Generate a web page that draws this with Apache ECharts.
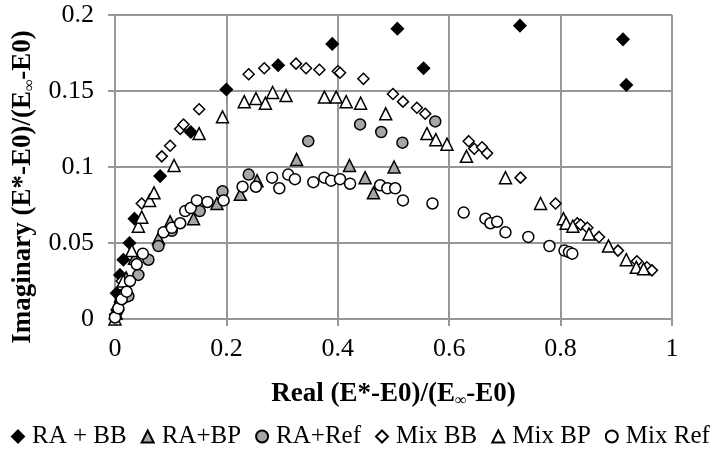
<!DOCTYPE html>
<html>
<head>
<meta charset="utf-8">
<script src="https://cdn.jsdelivr.net/npm/echarts@6/dist/echarts.min.js"></script>
<style>
  html, body { margin: 0; padding: 0; background: #fff; }
  #chart { width: 714px; height: 453px; }
</style>
</head>
<body>
<div id="chart"></div>
<script>
// Cole-Cole style plot
const seriesNames = ['RA + BB', 'RA+BP', 'RA+Ref', 'Mix BB', 'Mix BP', 'Mix Ref'];

const raBB = [[0.001, 0.003], [0.003, 0.017], [0.009, 0.029], [0.015, 0.039], [0.026, 0.050],
  [0.035, 0.066], [0.081, 0.094], [0.136, 0.123], [0.200, 0.151], [0.293, 0.167],
  [0.390, 0.181], [0.507, 0.191], [0.554, 0.165], [0.727, 0.193], [0.912, 0.184], [0.918, 0.154]];

const raBP = [[0.002, 0.004], [0.010, 0.015], [0.020, 0.027], [0.035, 0.040], [0.078, 0.053],
  [0.099, 0.064], [0.141, 0.066], [0.183, 0.076], [0.225, 0.082], [0.255, 0.091],
  [0.326, 0.105], [0.421, 0.101], [0.449, 0.093], [0.464, 0.083], [0.501, 0.100]];

const raRef = [[0.005, 0.006], [0.024, 0.015], [0.042, 0.029], [0.060, 0.039], [0.078, 0.048],
  [0.102, 0.058], [0.152, 0.071], [0.193, 0.084], [0.240, 0.095], [0.347, 0.117],
  [0.440, 0.128], [0.478, 0.123], [0.516, 0.116], [0.575, 0.130]];

const mixBB = [[0.003, 0.006], [0.012, 0.025], [0.048, 0.076], [0.084, 0.107], [0.099, 0.114],
  [0.117, 0.125], [0.123, 0.128], [0.151, 0.138], [0.240, 0.161], [0.268, 0.165],
  [0.325, 0.168], [0.343, 0.165], [0.367, 0.164], [0.400, 0.163], [0.404, 0.162],
  [0.446, 0.158], [0.499, 0.148], [0.517, 0.143], [0.542, 0.139], [0.557, 0.135],
  [0.635, 0.117], [0.645, 0.112], [0.659, 0.113], [0.668, 0.109], [0.728, 0.093],
  [0.791, 0.076], [0.830, 0.063], [0.836, 0.062], [0.848, 0.060], [0.869, 0.054],
  [0.903, 0.045], [0.937, 0.038], [0.955, 0.034], [0.964, 0.032]];

const mixBP = [[0.000, 0.000], [0.005, 0.010], [0.015, 0.025], [0.030, 0.045], [0.042, 0.061],
  [0.048, 0.067], [0.062, 0.078], [0.070, 0.083], [0.106, 0.101], [0.151, 0.122],
  [0.193, 0.133], [0.232, 0.143], [0.253, 0.145], [0.270, 0.142], [0.283, 0.149],
  [0.307, 0.147], [0.376, 0.146], [0.397, 0.146], [0.415, 0.143], [0.441, 0.142],
  [0.486, 0.135], [0.560, 0.122], [0.576, 0.118], [0.596, 0.115], [0.631, 0.107],
  [0.701, 0.093], [0.764, 0.076], [0.805, 0.066], [0.810, 0.063], [0.822, 0.061],
  [0.851, 0.056], [0.886, 0.048], [0.918, 0.039], [0.936, 0.034], [0.949, 0.033]];

const mixRef = [[0.000, 0.001], [0.006, 0.007], [0.012, 0.013], [0.021, 0.018], [0.027, 0.025],
  [0.039, 0.036], [0.050, 0.043], [0.087, 0.057], [0.102, 0.060], [0.117, 0.063],
  [0.126, 0.071], [0.136, 0.073], [0.147, 0.078], [0.166, 0.077], [0.195, 0.078],
  [0.229, 0.087], [0.253, 0.087], [0.282, 0.093], [0.295, 0.086], [0.311, 0.095],
  [0.323, 0.092], [0.356, 0.090], [0.376, 0.093], [0.388, 0.091], [0.404, 0.092],
  [0.422, 0.089], [0.476, 0.088], [0.489, 0.086], [0.503, 0.086], [0.517, 0.078],
  [0.570, 0.076], [0.626, 0.070], [0.665, 0.066], [0.674, 0.063], [0.686, 0.064],
  [0.701, 0.057], [0.742, 0.054], [0.780, 0.048], [0.807, 0.045], [0.815, 0.044],
  [0.821, 0.043]];

const seriesData = [raBB, raBP, raRef, mixBB, mixBP, mixRef];
const symbols = ['diamond', 'triangle', 'circle', 'diamond', 'triangle', 'circle'];
const fills = ['#000', '#a6a6a6', '#a6a6a6', '#fff', '#fff', '#fff'];
const sizes = [12, 12, 11, 11, 12, 11];

const FONT = '"Liberation Serif", "Times New Roman", serif';
const gridColor = '#979797';

const series = seriesNames.map((name, i) => ({
  name: name,
  type: 'scatter',
  symbol: symbols[i],
  symbolSize: sizes[i],
  itemStyle: {
    color: fills[i],
    borderColor: '#000',
    borderWidth: 1.5,
    opacity: 1
  },
  emphasis: { disabled: true },
  data: seriesData[i]
}));

const titleRich = {
  b: { fontFamily: FONT, fontWeight: 'bold', fontSize: 27, color: '#000' },
  sub: { fontFamily: FONT, fontWeight: 'bold', fontSize: 16, color: '#000', padding: [14, 0, 0, 0] }
};

const chart = echarts.init(document.getElementById('chart'), null, { renderer: 'canvas' });
chart.setOption({
  animation: false,
  backgroundColor: '#fff',
  grid: { left: 115, right: 42, top: 15, bottom: 134 },
  legend: {
    top: 424,
    left: 11,
    padding: 0,
    itemWidth: 12,
    itemHeight: 12,
    itemGap: 14,
    data: seriesNames,
    textStyle: { fontFamily: FONT, fontSize: 25, color: '#000', padding: [0, 0, 0, 3] }
  },
  xAxis: {
    type: 'value',
    min: 0, max: 1, interval: 0.2,
    name: '{b|Real (E*-E0)/(E}{sub|∞}{b|-E0)}',
    nameLocation: 'middle',
    nameGap: 60,
    nameTextStyle: { rich: titleRich },
    axisLine: { show: true, lineStyle: { color: gridColor, width: 2 } },
    axisTick: { show: true, inside: false, length: 7, lineStyle: { color: gridColor, width: 2 } },
    axisLabel: { fontFamily: FONT, fontSize: 26, color: '#000', margin: 17 },
    splitLine: { show: true, lineStyle: { color: gridColor, width: 2 } }
  },
  yAxis: {
    type: 'value',
    min: 0, max: 0.2, interval: 0.05,
    name: '{b|Imaginary (E*-E0)/(E}{sub|∞}{b|-E0)}',
    nameLocation: 'middle',
    nameGap: 77,
    nameTextStyle: { rich: titleRich, padding: [0, 40, 0, 0] },
    axisLine: { show: true, lineStyle: { color: gridColor, width: 2 } },
    axisTick: { show: true, inside: false, length: 7, lineStyle: { color: gridColor, width: 2 } },
    axisLabel: { fontFamily: FONT, fontSize: 26, color: '#000', margin: 21 },
    splitLine: { show: true, lineStyle: { color: gridColor, width: 2 } }
  },
  series: series
});
</script>
</body>
</html>
